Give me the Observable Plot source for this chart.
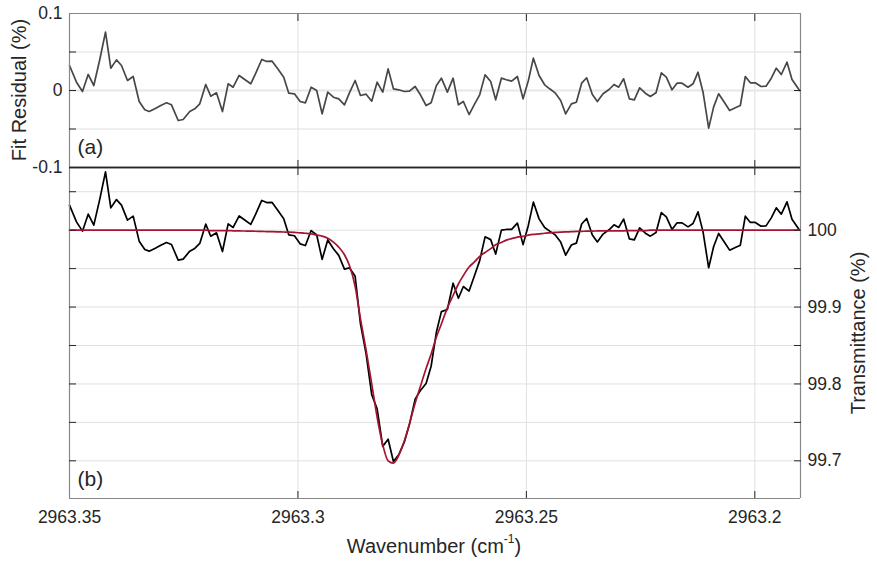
<!DOCTYPE html>
<html>
<head>
<meta charset="utf-8">
<script src="https://cdn.jsdelivr.net/npm/d3@7"></script>
<script src="https://cdn.jsdelivr.net/npm/@observablehq/plot@0.6"></script>
<style>
  body { margin: 0; background: #fff; }
  #wrap { position: relative; width: 877px; height: 565px; font-family: "Liberation Sans", Arial, Helvetica, sans-serif; color: #262626; }
  #wrap svg { position: absolute; left: 0; top: 0; }
  .lab { position: absolute; font-size: 20px; white-space: nowrap; transform: translate(-50%, -50%); }
  .rot { transform: translate(-50%, -50%) rotate(-90deg); }
  .lab sup { font-size: 12px; position: relative; top: -2px; }
</style>
</head>
<body>
<div id="wrap"></div>
<script>
// ---- data ----
const wavenumber = [
  2963.35000, 2963.34847, 2963.34716, 2963.34591, 2963.34468, 2963.34337, 2963.34212, 2963.34096, 2963.33972, 2963.33862,
  2963.33731, 2963.33606, 2963.33475, 2963.33352, 2963.33256, 2963.33133, 2963.33002, 2963.32877, 2963.32768, 2963.32621,
  2963.32512, 2963.32368, 2963.32258, 2963.32149, 2963.32018, 2963.31908, 2963.31783, 2963.31652, 2963.31527, 2963.31418,
  2963.31287, 2963.31164, 2963.31033, 2963.30930, 2963.30792, 2963.30683, 2963.30565, 2963.30442, 2963.30311, 2963.30201,
  2963.30077, 2963.29952, 2963.29836, 2963.29711, 2963.29589, 2963.29470, 2963.29348, 2963.29223, 2963.29107, 2963.28982,
  2963.28873, 2963.28748, 2963.28632, 2963.28508, 2963.28385, 2963.28267, 2963.28144, 2963.28026, 2963.27910, 2963.27794,
  2963.27670, 2963.27560, 2963.27435, 2963.27319, 2963.27195, 2963.27085, 2963.26969, 2963.26860, 2963.26729, 2963.26604,
  2963.26488, 2963.26379, 2963.26254, 2963.26131, 2963.26022, 2963.25904, 2963.25781, 2963.25672, 2963.25547, 2963.25438,
  2963.25322, 2963.25197, 2963.25072, 2963.24956, 2963.24847, 2963.24722, 2963.24600, 2963.24490, 2963.24372, 2963.24249,
  2963.24140, 2963.24015, 2963.23906, 2963.23790, 2963.23680, 2963.23556, 2963.23446, 2963.23322, 2963.23190, 2963.23081,
  2963.22980, 2963.22871, 2963.22746, 2963.22637, 2963.22521, 2963.22396, 2963.22287, 2963.22162, 2963.22046, 2963.21937,
  2963.21812, 2963.21702, 2963.21593, 2963.21462, 2963.21352, 2963.21243, 2963.21133, 2963.21010, 2963.20902, 2963.20792,
  2963.20661, 2963.20551, 2963.20427, 2963.20317, 2963.20208, 2963.20098, 2963.19989, 2963.19864, 2963.19755, 2963.19639,
  2963.19530, 2963.19420, 2963.19295, 2963.19186, 2963.19020
];

// fit residual (%), panel (a)
const residual = [
  0.0325, 0.0108, -0.0013, 0.0208, 0.0065, 0.0403, 0.0758, 0.0290, 0.0398, 0.0325,
  0.0130, 0.0182, -0.0143, -0.0251, -0.0273, -0.0238, -0.0195, -0.0160, -0.0186, -0.0390,
  -0.0377, -0.0273, -0.0238, -0.0173, 0.0078, -0.0074, -0.0030, -0.0273, 0.0087, 0.0043,
  0.0195, 0.0143, 0.0087, 0.0216, 0.0403, 0.0377, 0.0381, 0.0281, 0.0173, -0.0035,
  -0.0043, -0.0143, -0.0160, 0.0043, 0.0000, -0.0303, -0.0022, -0.0087, -0.0108, -0.0186,
  -0.0030, 0.0130, -0.0065, -0.0048, -0.0139, 0.0108, -0.0022, 0.0281, 0.0022, 0.0009,
  -0.0013, -0.0009, 0.0052, -0.0056, -0.0195, -0.0160, 0.0065, 0.0160, -0.0022, 0.0160,
  -0.0186, -0.0143, -0.0312, -0.0173, -0.0056, 0.0203, 0.0117, -0.0121, 0.0160, 0.0139,
  0.0121, 0.0182, -0.0108, 0.0130, 0.0420, 0.0195, 0.0074, 0.0022, -0.0030, -0.0130,
  -0.0303, -0.0173, -0.0152, 0.0095, 0.0165, -0.0052, -0.0143, -0.0043, 0.0013, 0.0078,
  0.0043, 0.0152, -0.0108, -0.0121, 0.0035, -0.0035, -0.0078, -0.0030, 0.0229, 0.0173,
  0.0009, 0.0095, 0.0095, 0.0043, 0.0087, 0.0238, -0.0022, -0.0489, -0.0216, -0.0043,
  -0.0160, -0.0260, -0.0225, -0.0195, 0.0182, 0.0100, 0.0100, 0.0052, 0.0056, 0.0160,
  0.0290, 0.0208, 0.0368, 0.0143, 0.0000
];

// fitted transmittance (%), panel (b), red curve
const fitTransmittance = [
  100, 100, 100, 100, 100, 100, 100, 100, 100, 100,
  100, 100, 100, 100, 100, 100, 100, 100, 100, 100,
  100, 100, 100, 100, 100, 99.9995, 99.9995, 99.9995, 99.9995, 99.9992,
  99.9990, 99.9989, 99.9988, 99.9986, 99.9984, 99.9982, 99.9980, 99.9978, 99.9976, 99.9974,
  99.9970, 99.9965, 99.9960, 99.9952, 99.9937, 99.9923, 99.9895, 99.9845, 99.9780, 99.9680,
  99.9540, 99.9270, 99.8850, 99.8440, 99.8000, 99.7570, 99.7210, 99.7000, 99.6970, 99.7070,
  99.7260, 99.7480, 99.7750, 99.7970, 99.8200, 99.8390, 99.8610, 99.8780, 99.8990, 99.9150,
  99.9300, 99.9410, 99.9520, 99.9590, 99.9660, 99.9710, 99.9760, 99.9810, 99.9840, 99.9870,
  99.9890, 99.9910, 99.9920, 99.9935, 99.9945, 99.9952, 99.9960, 99.9965, 99.9970, 99.9975,
  99.9978, 99.9980, 99.9983, 99.9985, 99.9987, 99.9988, 99.9990, 99.9992, 99.9992, 99.9992,
  99.9992, 99.9992, 99.9995, 99.9995, 99.9995, 99.9995, 100, 100, 100, 100,
  100, 100, 100, 100, 100, 100, 100, 100, 100, 100,
  100, 100, 100, 100, 100, 100, 100, 100, 100, 100,
  100, 100, 100, 100, 100
];

const residualTickLabels = [-0.1, 0, 0.1];
const residualMinorTicks = [-0.05, 0, 0.05];
const transmittanceTickLabels = [99.7, 99.8, 99.9, 100];
const transmittanceMinorTicks = [99.7, 99.75, 99.8, 99.85, 99.9, 99.95, 100, 100.05];
const wavenumberTickLabels = [2963.35, 2963.3, 2963.25, 2963.2];
const wavenumberGrid = [2963.3, 2963.25, 2963.2];

// measured spectrum = fit + residual
const rows = wavenumber.map((w, i) => ({
  w,
  res: residual[i],
  fit: fitTransmittance[i],
  meas: fitTransmittance[i] + residual[i]
}));

const W = 877, H = 565;
const xDomain = [2963.35, 2963.19];
const resDomain = [-0.1, 0.1];
const trDomain = [99.651, 100.0815];
const GRID = "#e0e0e0", FRAME = "#888888", DARK = "#262626";
const fmt = d => String(d);
const blank = () => "";

const common = {
  width: W, height: H, marginLeft: 69, marginRight: 77,
  style: { fontFamily: '"Liberation Sans", Arial, Helvetica, sans-serif', fontSize: "17.5px", color: DARK, background: "none", overflow: "visible" }
};

const topPlot = Plot.plot({
  ...common,
  marginTop: 13, marginBottom: H - 167,
  x: { domain: xDomain, axis: null },
  y: { domain: resDomain, axis: null },
  marks: [
    Plot.ruleX(wavenumberGrid, { stroke: GRID }),
    Plot.ruleY([-0.05, 0.05], { stroke: GRID }),
    Plot.ruleY([0], { stroke: "#e6e6e6", strokeWidth: 2 }),
    Plot.line(rows, { x: "w", y: "res", stroke: "#474747", strokeWidth: 1.7 }),
    Plot.ruleX([xDomain[0], xDomain[1]], { stroke: FRAME, strokeWidth: 1.2 }),
    Plot.ruleY([resDomain[1]], { stroke: FRAME, strokeWidth: 1.2 }),
    Plot.ruleY([resDomain[0]], { stroke: DARK, strokeWidth: 1.5 }),
    Plot.axisY({ anchor: "left", ticks: residualTickLabels, tickSize: 0, tickPadding: 7, tickFormat: fmt, label: null, fontSize: 17.5 }),
    Plot.axisY({ anchor: "left", ticks: residualMinorTicks, tickSize: -7, tickFormat: blank, label: null, stroke: DARK }),
    Plot.axisY({ anchor: "right", ticks: residualMinorTicks, tickSize: -7, tickFormat: blank, label: null, stroke: DARK }),
    Plot.axisX({ anchor: "top", ticks: wavenumberGrid, tickSize: -7, tickFormat: blank, label: null, stroke: DARK }),
    Plot.axisX({ anchor: "bottom", ticks: wavenumberGrid, tickSize: -7, tickFormat: blank, label: null, stroke: DARK }),
    Plot.text(["(a)"], { text: d => d, frameAnchor: "bottom-left", dx: 8, dy: -14, textAnchor: "start", fontSize: 21, fill: DARK })
  ]
});

const bottomPlot = Plot.plot({
  ...common,
  marginTop: 167, marginBottom: H - 498,
  x: { domain: xDomain, axis: null },
  y: { domain: trDomain, axis: null },
  marks: [
    Plot.ruleX(wavenumberGrid, { stroke: GRID }),
    Plot.ruleY(transmittanceMinorTicks, { stroke: GRID }),
    Plot.line(rows, { x: "w", y: "meas", stroke: "#000000", strokeWidth: 1.7 }),
    Plot.line(rows, { x: "w", y: "fit", stroke: "#a2142f", strokeWidth: 1.7, curve: "monotone-x" }),
    Plot.ruleX([xDomain[0], xDomain[1]], { stroke: FRAME, strokeWidth: 1.2 }),
    Plot.ruleY([trDomain[0]], { stroke: FRAME, strokeWidth: 1.2 }),
    Plot.ruleY([trDomain[1]], { stroke: DARK, strokeWidth: 1.5 }),
    Plot.axisX({ anchor: "bottom", ticks: wavenumberTickLabels, tickSize: 0, tickPadding: 12, tickFormat: fmt, label: null, fontSize: 17.5 }),
    Plot.axisX({ anchor: "bottom", ticks: wavenumberGrid, tickSize: -7, tickFormat: blank, label: null, stroke: DARK }),
    Plot.axisX({ anchor: "top", ticks: wavenumberGrid, tickSize: -7, tickFormat: blank, label: null, stroke: DARK }),
    Plot.axisY({ anchor: "right", ticks: transmittanceTickLabels, tickSize: 0, tickPadding: 7, tickFormat: fmt, label: null, fontSize: 17.5 }),
    Plot.axisY({ anchor: "right", ticks: transmittanceMinorTicks, tickSize: -7, tickFormat: blank, label: null, stroke: DARK }),
    Plot.axisY({ anchor: "left", ticks: transmittanceMinorTicks, tickSize: -7, tickFormat: blank, label: null, stroke: DARK }),
    Plot.text(["(b)"], { text: d => d, frameAnchor: "bottom-left", dx: 8, dy: -13, textAnchor: "start", fontSize: 21, fill: DARK })
  ]
});

const wrap = document.getElementById("wrap");
wrap.appendChild(bottomPlot);
wrap.appendChild(topPlot);

function addLabel(html, x, y, rotate) {
  const d = document.createElement("div");
  d.className = "lab" + (rotate ? " rot" : "");
  d.style.left = x + "px";
  d.style.top = y + "px";
  d.innerHTML = html;
  wrap.appendChild(d);
}
addLabel("Fit Residual (%)", 19, 90, true);
addLabel("Transmittance (%)", 858, 333, true);
addLabel("Wavenumber (cm<sup>-1</sup>)", 434, 546, false);
</script>
</body>
</html>
